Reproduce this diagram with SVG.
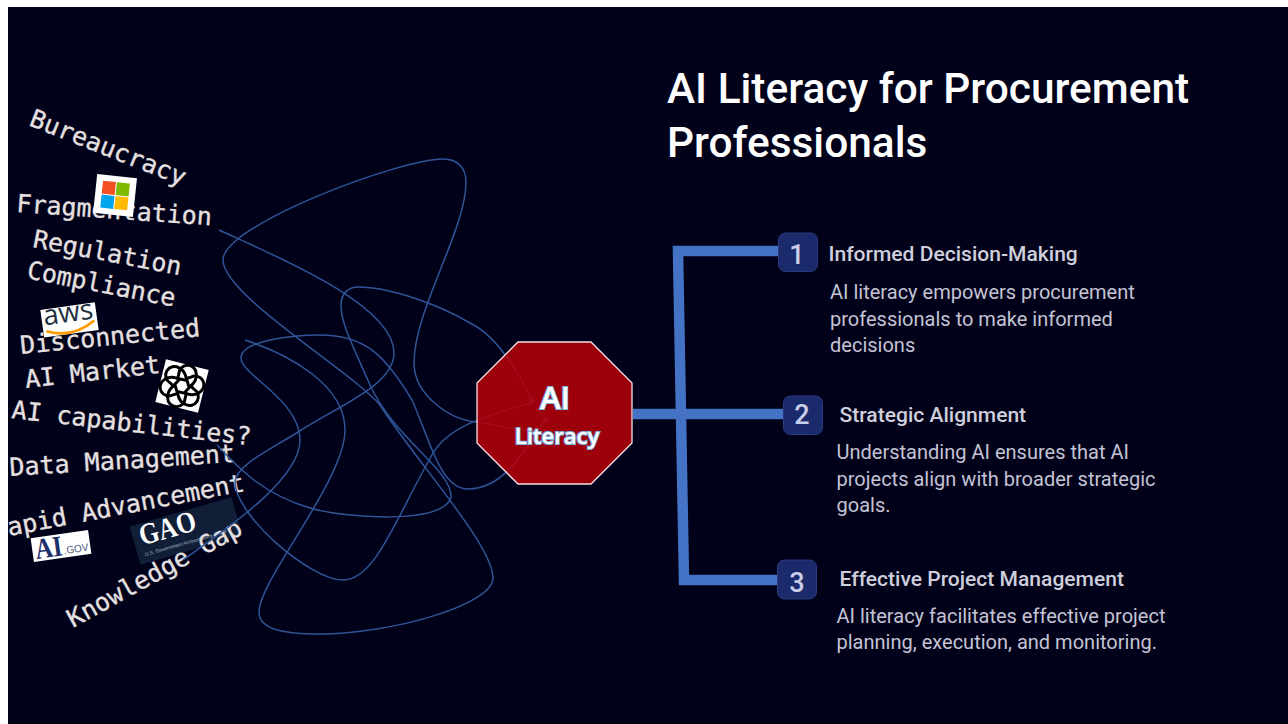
<svg xmlns="http://www.w3.org/2000/svg" width="1288" height="724" viewBox="0 0 1288 724">
<style>
.lbl{font-family:"DejaVu Sans Mono","Liberation Mono",monospace;font-size:25px;fill:#e6e0e0;stroke:#e6e0e0;stroke-width:.35}
.curve{fill:none;stroke:#2f5597;stroke-width:1.5;marker-end:url(#tip)}
.bar{fill:none;stroke:#4472c4;stroke-width:10.5}
.badge{fill:#1b2a6b;stroke:#2a3a80;stroke-width:1}
.num{font-family:Roboto,"Liberation Sans",sans-serif;font-weight:500;font-size:27px;fill:#c9cdea;text-anchor:middle}
.head{font-family:Roboto,"Liberation Sans",sans-serif;font-weight:500;font-size:21.05px;fill:#cfcfdc}
.body{font-family:Roboto,"Liberation Sans",sans-serif;font-size:20.03px;fill:#c4c4d4}
.title{font-family:Roboto,"Liberation Sans",sans-serif;font-weight:500;font-size:42.4px;fill:#fff}
.core{font-family:"Open Sans","Noto Sans",sans-serif;font-weight:600;fill:#fff;stroke:#7db4e6;stroke-width:2.2;paint-order:stroke;text-anchor:middle}
.petal{fill:none;stroke:#000;stroke-width:3}
</style>
<defs>
<marker id="tip" viewBox="0 0 6 6" refX="5" refY="3" markerWidth="6" markerHeight="6" markerUnits="userSpaceOnUse" orient="auto"><path d="M0 .5L5 3L0 5.500" fill="none" stroke="#2f5597" stroke-width="1"/></marker>
<path id="petal" d="M-6 -5V-11A8.500 8.500 0 0 1 11 -15Q13 -9 9 -3L4 6"/>
</defs>
<rect width="1288" height="724" fill="#fff"/>
<rect x="8" y="7" width="1280" height="717" fill="#01011a"/>
<g id="labels">
<text class="lbl" transform="translate(28 125) rotate(21.6)">Bureaucracy</text>
<text class="lbl" transform="translate(16 212) rotate(3.9)">Fragmentation</text>
<text class="lbl" transform="translate(32 247) rotate(10.8)">Regulation</text>
<text class="lbl" transform="translate(26 278) rotate(11)">Compliance</text>
<text class="lbl" transform="translate(26 388) rotate(-6.4)">AI Market</text>
<text class="lbl" transform="translate(11 418) rotate(6.5)">AI capabilities?</text>
<text class="lbl" transform="translate(10 476) rotate(-3.6)">Data Management</text>
<text class="lbl" transform="translate(9 536) rotate(-10.8)">apid Advancement</text>
</g>
<g id="logo-microsoft" transform="translate(115 196) rotate(6)">
<rect x="-20" y="-20" width="40" height="39" fill="#fff"/>
<rect x="-13.500" y="-14" width="13" height="13" fill="#f25022"/>
<rect x="0.500" y="-14" width="13" height="13" fill="#7fba00"/>
<rect x="-13.500" y="0" width="13" height="13" fill="#00a4ef"/>
<rect x="0.500" y="0" width="13" height="13" fill="#ffb900"/>
</g>
<text class="lbl" transform="translate(21 354) rotate(-5.7)">Disconnected</text>
<g id="logo-aws" transform="translate(69 320) rotate(-8)">
<rect x="-27" y="-14" width="55" height="28" fill="#fff"/>
<text x="-25" y="2" textLength="50" lengthAdjust="spacingAndGlyphs" font-family="Open Sans,sans-serif" font-weight="500" font-size="28" fill="#232f3e">aws</text>
<path d="M-24 8Q1 19 25 4" fill="none" stroke="#f90" stroke-width="2.800"/>
</g>
<g id="logo-openai" transform="translate(182 386) rotate(14)">
<rect x="-22" y="-22" width="44" height="44" fill="#fff"/>
<use href="#petal" class="petal"/>
<use href="#petal" class="petal" transform="rotate(60)"/>
<use href="#petal" class="petal" transform="rotate(120)"/>
<use href="#petal" class="petal" transform="rotate(180)"/>
<use href="#petal" class="petal" transform="rotate(240)"/>
<use href="#petal" class="petal" transform="rotate(300)"/>
</g>
<g id="logo-aigov" transform="translate(61 546) rotate(-8)">
<rect x="-29" y="-12" width="58" height="24" fill="#fff"/>
<text x="-26" y="9.500" textLength="27" lengthAdjust="spacingAndGlyphs" font-family="Liberation Serif,serif" font-weight="700" font-size="29" fill="#1f2f6b">AI</text>
<text x="2" y="8.500" textLength="25" lengthAdjust="spacingAndGlyphs" font-family="Liberation Sans,sans-serif" font-size="10.500" fill="#4a5578">.GOV</text>
</g>
<g id="logo-gao" transform="translate(186 531) rotate(-16)">
<rect x="-53" y="-20" width="106" height="40" fill="#101e38"/>
<text x="-46" y="2" textLength="58" lengthAdjust="spacingAndGlyphs" font-family="Liberation Serif,serif" font-weight="700" font-size="30" fill="#fff">GAO</text>
<text x="-46" y="13" font-family="Liberation Sans,sans-serif" font-size="5" fill="#aab3c4">U.S. Government Accountability Office</text>
</g>
<text class="lbl" transform="translate(73 628) rotate(-29)">Knowledge Gap</text>
<g id="connectors">
<path class="curve" d="M219 230C280 258 394 305 394 353C394 385 340 405 298 432C270 450 236 465 235 482C235 515 310 580 343 580C375 580 395 520 433 453C450 425 490 415 533 402"/>
<path class="curve" d="M245 340C290 355 345 385 345 430C345 480 259 580 259 612C259 630 285 634 320 634C390 634 493 605 493 578C493 545 415 460 380 405C350 370 223 295 223 260C223 225 400 159 443 159C458 159 466 168 466 182C466 230 414 310 414 363C414 395 450 420 477 422C500 425 520 432 547 432"/>
<path class="curve" d="M217 445C240 470 265 495 310 508C345 518 440 525 451 498C453 470 395 440 370 385C355 350 341 325 341 305C341 292 350 287 358 287C390 287 440 305 470 323C495 335 515 365 533 402"/>
<path class="curve" d="M183 560C225 530 300 480 300 440C300 400 241 375 241 358C241 340 295 335 320 335C365 335 385 355 412 400C430 440 440 489 468 489C500 489 520 460 547 417"/>
<path class="bar" d="M778 251H678L684 580H778"/>
<path class="bar" d="M633 414L783 414"/>
</g>
<g id="node-ai-literacy">
<polygon points="518,342 591,342 632,383 632,443 591,484 518,484 477,443 477,383" fill="#b80008" fill-opacity="0.85" stroke="#f4e4e4" stroke-width="1.300"/>
<text class="core" x="555" y="409" font-size="31">AI</text>
<text class="core" x="557" y="444" font-size="22">Literacy</text>
</g>
<g id="title"><text class="title" x="667" y="103">AI Literacy for Procurement</text><text class="title" x="667" y="157">Professionals</text></g>
<g id="item-1">
<rect class="badge" x="778.500" y="233" width="39" height="38.500" rx="7"/>
<text class="num" x="797" y="264">1</text>
<text class="head" x="828.500" y="261">Informed Decision-Making</text>
<text class="body" x="830" y="299">AI literacy empowers procurement</text>
<text class="body" x="830" y="326">professionals to make informed</text>
<text class="body" x="830" y="352">decisions</text>
</g>
<g id="item-2">
<rect class="badge" x="783.500" y="396" width="39" height="38.500" rx="7"/>
<text class="num" x="802" y="424">2</text>
<text class="head" x="839.500" y="422">Strategic Alignment</text>
<text class="body" x="836.500" y="459">Understanding AI ensures that AI</text>
<text class="body" x="836.500" y="486">projects align with broader strategic</text>
<text class="body" x="836.500" y="512">goals.</text>
</g>
<g id="item-3">
<rect class="badge" x="777.500" y="560" width="39" height="39" rx="7"/>
<text class="num" x="797" y="592">3</text>
<text class="head" x="839.500" y="586">Effective Project Management</text>
<text class="body" x="836.500" y="623">AI literacy facilitates effective project</text>
<text class="body" x="836.500" y="649">planning, execution, and monitoring.</text>
</g>
</svg>
